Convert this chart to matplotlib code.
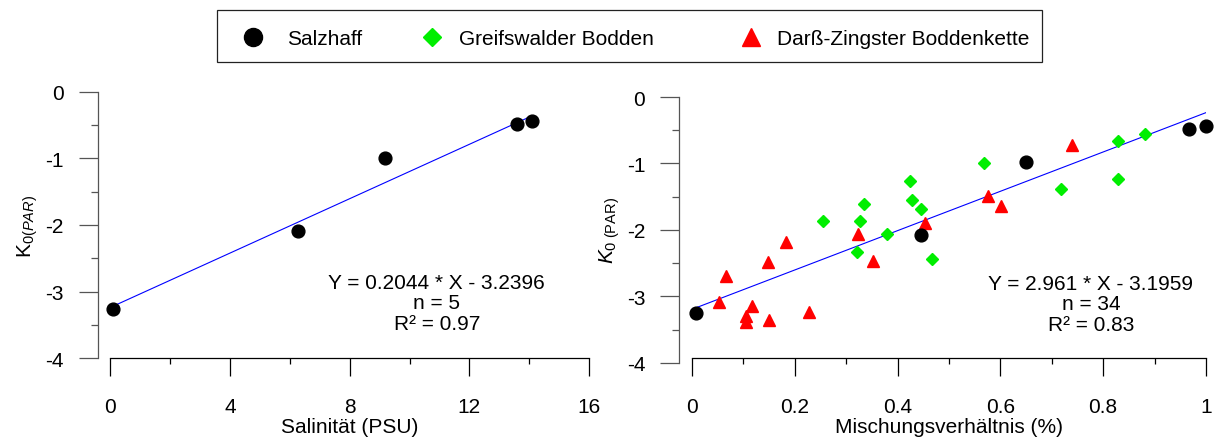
import numpy as np
import matplotlib.pyplot as plt
from matplotlib.lines import Line2D
from matplotlib.patches import Rectangle
from matplotlib.ticker import MultipleLocator, FuncFormatter

plt.rcParams['font.family'] = ['Liberation Sans', 'DejaVu Sans']
plt.rcParams['mathtext.fontset'] = 'custom'
plt.rcParams['mathtext.rm'] = 'Liberation Sans'
plt.rcParams['mathtext.it'] = 'Liberation Sans:italic'

# =========================
# Daten
# =========================
# Salzhaff: Salinität vs K0(PAR)
sal_S = np.array([0.10, 6.28, 9.18, 13.60, 14.10])
sal_K = np.array([-3.26, -2.09, -0.99, -0.48, -0.43])

# Mischungsverhältnis vs K0(PAR)
salz_x = np.array([0.007, 0.446, 0.650, 0.966, 1.000])
salz_y = np.array([-3.25, -2.08, -0.98, -0.48, -0.43])

greif_x = np.array([0.254, 0.322, 0.327, 0.335, 0.380, 0.424, 0.429, 0.446,
                    0.466, 0.568, 0.718, 0.829, 0.829, 0.881])
greif_y = np.array([-1.86, -2.34, -1.86, -1.61, -2.06, -1.26, -1.55, -1.68,
                    -2.44, -1.00, -1.39, -0.66, -1.23, -0.56])

dz_x = np.array([0.053, 0.066, 0.105, 0.105, 0.117, 0.150, 0.148, 0.183,
                 0.228, 0.323, 0.353, 0.453, 0.575, 0.602, 0.739])
dz_y = np.array([-3.09, -2.70, -3.39, -3.29, -3.15, -3.35, -2.48, -2.18,
                 -3.23, -2.06, -2.47, -1.90, -1.49, -1.64, -0.72])

# Regressionen
fit_left = (0.2044, -3.2396)
fit_right = (2.961, -3.1959)
txt_left = ['Y = 0.2044 * X - 3.2396', 'n = 5', 'R² = 0.97']
txt_right = ['Y = 2.961 * X - 3.1959', 'n = 34', 'R² = 0.83']

FS = 15
AX_GRAY = '#555555'
W = 1214.0

fig = plt.figure(figsize=(12.14, 4.39), dpi=100)
axL = fig.add_axes([0.0909, 0.1822, 0.3943, 0.606])
axR = fig.add_axes([0.5700, 0.1715, 0.4234, 0.6052])


def style_axes(ax, bottom_offset):
    for s in ['top', 'right']:
        ax.spines[s].set_visible(False)
    ax.spines['left'].set_position(('outward', 9.1))
    ax.spines['bottom'].set_position(('outward', bottom_offset))
    ax.spines['left'].set_color(AX_GRAY)
    ax.spines['left'].set_linewidth(0.9)
    ax.spines['bottom'].set_linewidth(0.9)
    ax.set_ylim(-4, 0)
    ax.spines['left'].set_bounds(-4, 0)
    ax.yaxis.set_major_locator(MultipleLocator(1))
    ax.yaxis.set_minor_locator(MultipleLocator(0.5))
    ax.tick_params(axis='y', which='major', direction='out', length=13.5,
                   width=0.9, color=AX_GRAY, pad=11, labelsize=FS)
    ax.tick_params(axis='y', which='minor', direction='out', length=5,
                   width=0.9, color=AX_GRAY)
    ax.tick_params(axis='x', which='major', direction='out', length=13,
                   width=0.9, pad=15, labelsize=FS)
    ax.tick_params(axis='x', which='minor', direction='out', length=4.5,
                   width=0.9)
    ax.yaxis.set_major_formatter(FuncFormatter(lambda v, p: f'{v:g}'))
    ax.xaxis.set_major_formatter(FuncFormatter(lambda v, p: f'{v:g}'))
    ax.patch.set_alpha(0)


# ----- links -----
style_axes(axL, 0)
axL.set_xlim(0, 16)
axL.spines['bottom'].set_bounds(0, 16)
axL.xaxis.set_major_locator(MultipleLocator(4))
axL.xaxis.set_minor_locator(MultipleLocator(2))
xl = np.array([sal_S.min(), sal_S.max()])
axL.plot(xl, fit_left[0] * xl + fit_left[1], color='#0000ff', lw=0.8, zorder=2)
axL.plot(sal_S, sal_K, 'o', color='black', ms=9.2, zorder=3, clip_on=False)
axL.set_xlabel('Salinität (PSU)', fontsize=FS, labelpad=0.5)
axL.set_ylabel(r'K$_{\mathit{0(PAR)}}$', fontsize=FS, labelpad=3.5)
axL.text(0.682, 0.207, '\n'.join(txt_left), transform=axL.transAxes,
         ha='center', va='center', fontsize=FS, linespacing=1.1)

# ----- rechts -----
style_axes(axR, -3.2)
axR.set_xlim(0, 1)
axR.spines['bottom'].set_bounds(0, 1)
axR.xaxis.set_major_locator(MultipleLocator(0.2))
axR.xaxis.set_minor_locator(MultipleLocator(0.1))
xr = np.array([salz_x.min(), salz_x.max()])
axR.plot(xr, fit_right[0] * xr + fit_right[1], color='#0000ff', lw=0.8, zorder=2)
axR.plot(dz_x, dz_y, '^', color='#ff0000', ms=9.2, zorder=3, clip_on=False)
axR.plot(greif_x, greif_y, 'D', color='#00ee00', ms=6.3, zorder=3, clip_on=False)
axR.plot(salz_x, salz_y, 'o', color='black', ms=9.2, zorder=4, clip_on=False)
axR.set_xlabel('Mischungsverhältnis (%)', fontsize=FS, labelpad=0.5)
axR.set_ylabel(r'$\mathit{K}_{\mathrm{0\ (PAR)}}$', fontsize=FS, labelpad=3.5)
axR.text(0.776, 0.221, '\n'.join(txt_right), transform=axR.transAxes,
         ha='center', va='center', fontsize=FS, linespacing=1.1)

# ----- Legende -----
handles = [
    Line2D([], [], ls='none', marker='o', color='black', ms=13),
    Line2D([], [], ls='none', marker='D', color='#00ee00', ms=9),
    Line2D([], [], ls='none', marker='^', color='#ff0000', ms=12.5),
]
labels = ['Salzhaff', 'Greifswalder Bodden', 'Darß-Zingster Boddenkette']
# Marker-Mitte (px) und Abstand zum Text (em) je Eintrag
leg_x = [253, 432, 751]
leg_pad = [1.13, 0.80, 0.75]
fs_px = FS * 100 / 72

fig.patches.append(Rectangle((217 / W, 0.8565), 825 / W, 0.1185,
                             transform=fig.transFigure, fill=False,
                             edgecolor='#222222', lw=0.9))
for h, lab, xc, pad in zip(handles, labels, leg_x, leg_pad):
    fig.legend([h], [lab], loc='center left', frameon=False, fontsize=FS,
               bbox_to_anchor=((xc - fs_px / 2) / W, 0.909),
               borderpad=0, borderaxespad=0, handlelength=1.0,
               handletextpad=pad)

fig.savefig('out.png', dpi=100)
